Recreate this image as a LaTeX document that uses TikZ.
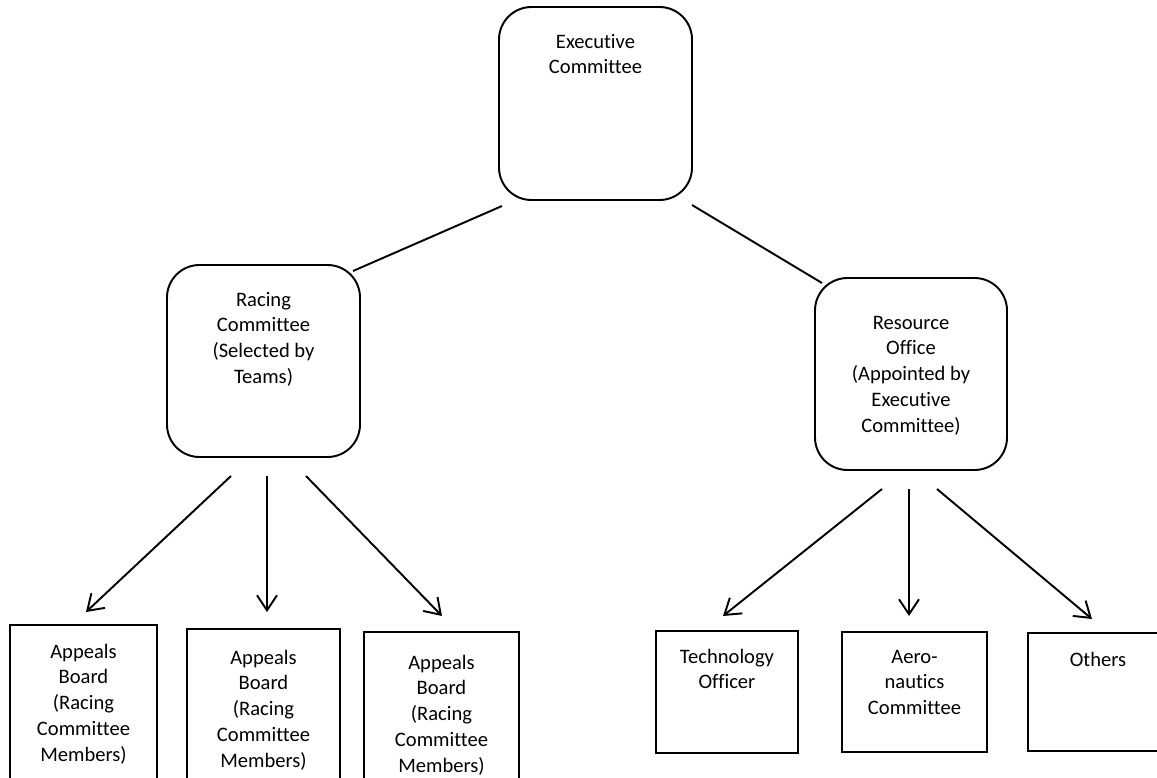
\documentclass[tikz,border=0pt]{standalone}
\usepackage{fontspec}
\setmainfont{Carlito}[Ligatures=NoCommon]
\usetikzlibrary{arrows.meta,calc}

\newlength{\pixlen}
\setlength{\pixlen}{0.02cm}
% box text: width, height, first baseline, lines
\newcommand{\boxlabel}[4]{\parbox[c][#2\pixlen][t]{#1\pixlen}{\centering\rule{0pt}{#3\pixlen}#4}}

\begin{document}
\begin{tikzpicture}[x=0.02cm, y=-0.02cm,
        font=\fontsize{11.7}{14.75}\selectfont,
        rbox/.style={draw, line width=1.1pt, rounded corners=0.65cm, inner sep=0pt, outer sep=0pt},
        sbox/.style={draw, line width=1.1pt, inner sep=0pt, outer sep=0pt},
        link/.style={line width=1.1pt},
        arrow/.style={line width=1.1pt, -{Straight Barb[length=0.3cm,width=0.4cm]}}]
        \useasboundingbox (0,0) rectangle (1157,778);

        % Top level
        \node[rbox] (exec) at (595.5,103.5) {\boxlabel{193}{193}{41}{Executive\\Committee}};

        % Second level
        \node[rbox] (racing) at (263.5,361) {\boxlabel{193}{192}{41}{Racing\\Committee\\(Selected by\\Teams)}};
        \node[rbox] (resource) at (911,374) {\boxlabel{192}{192}{51}{Resource\\Office\\(Appointed by\\Executive\\Committee)}};

        % Appeals boards (under racing committee)
        \node[sbox] (appeals1) at (83.5,705) {\boxlabel{147}{160}{33}{Appeals\\Board\\(Racing\\Committee\\Members)}};
        \node[sbox] (appeals2) at (263.5,709) {\boxlabel{153}{160}{35}{Appeals\\Board\\(Racing\\Committee\\Members)}};
        \node[sbox] (appeals3) at (441.5,712) {\boxlabel{155}{160}{37}{Appeals\\Board\\(Racing\\Committee\\Members)}};

        % Offices (under resource office)
        \node[sbox] (tech) at (727,692) {\boxlabel{142}{122}{32}{Technology\\Officer}};
        \node[sbox] (aero) at (914.5,692) {\boxlabel{145}{120}{31}{Aero-\\nautics\\Committee}};
        \node[sbox] (others) at (1098,692) {\boxlabel{140}{118}{33}{Others}};

        % Lines from the executive committee
        \draw[link] ($(exec.south west)+(3,6)$) -- ($(racing.north east)+(-7,6)$);
        \draw[link] ($(exec.south east)+(0,5)$) -- ($(resource.north west)+(7,5)$);

        % Arrows down
        \draw[arrow] ($(racing.south)+(-32.5,19)$) -- ($(appeals1.north)+(2.5,-13)$);
        \draw[arrow] ($(racing.south)+(3.5,19)$) -- ($(appeals2.north)+(3.5,-17)$);
        \draw[arrow] ($(racing.south)+(42.5,19)$) -- ($(appeals3.north)+(0.5,-16)$);

        \draw[arrow] ($(resource.south)+(-29,19)$) -- ($(tech.north)+(-4,-15)$);
        \draw[arrow] ($(resource.south)+(-2,19)$) -- ($(aero.north)+(-5.5,-16)$);
        \draw[arrow] ($(resource.south)+(26,19)$) -- ($(others.north)+(-6,-14)$);
    \end{tikzpicture}
\end{document}
